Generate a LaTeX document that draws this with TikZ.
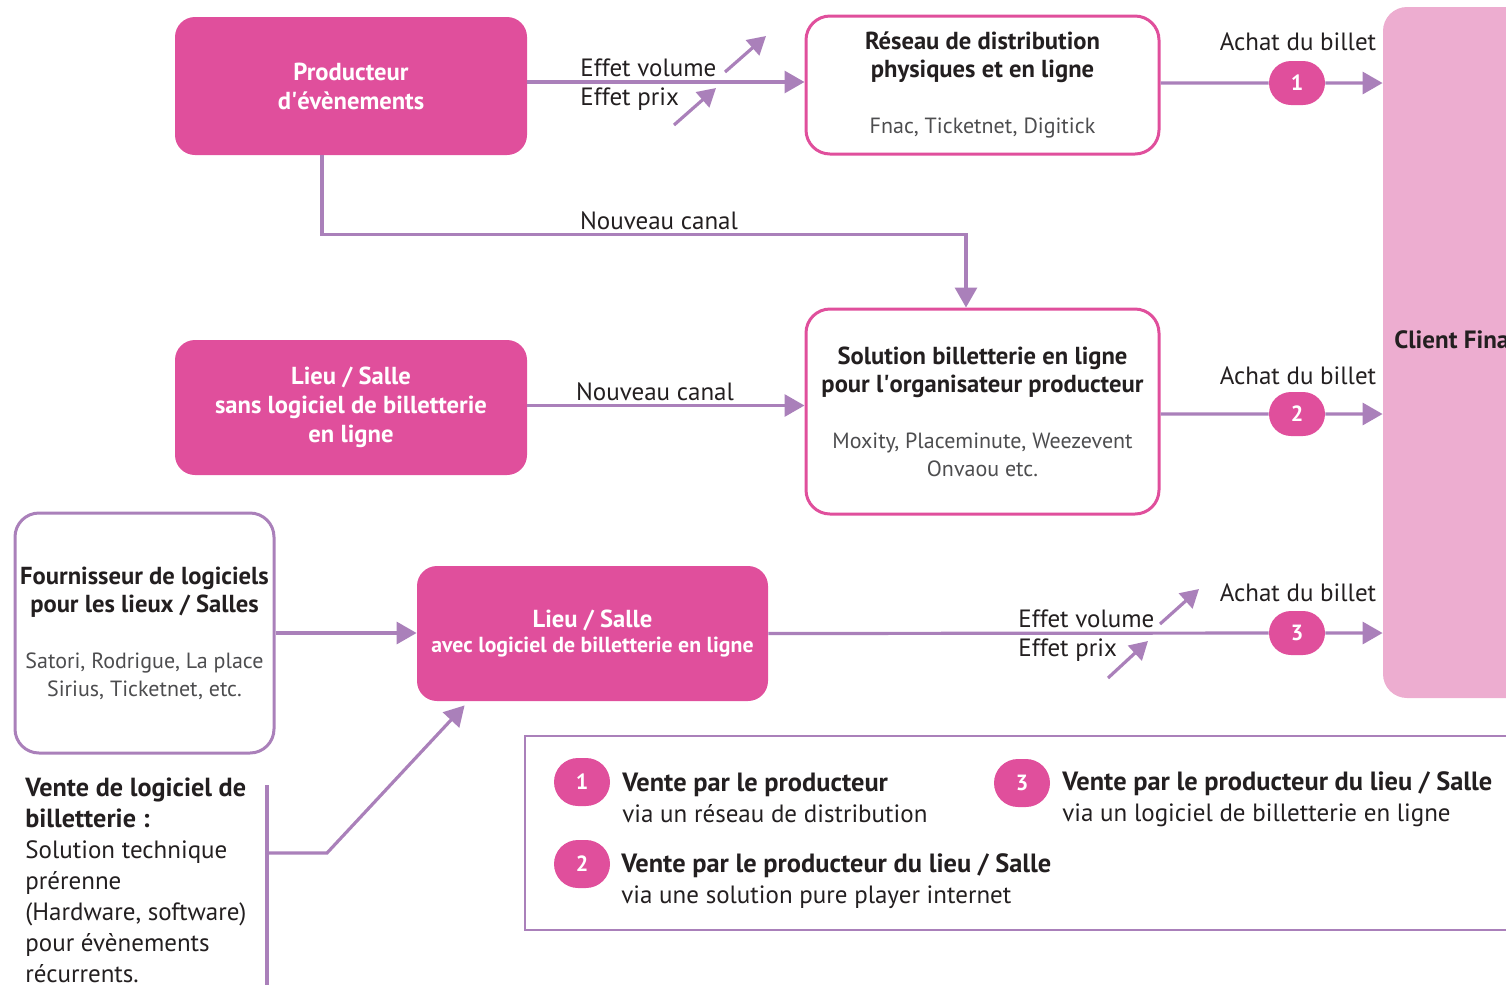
\documentclass[tikz,border=0pt]{standalone}
\usepackage{fontspec}
\setmainfont{PT Sans}
\usetikzlibrary{positioning,arrows.meta,shapes.misc}

\definecolor{rose}{HTML}{E04F9C}
\definecolor{rosepale}{HTML}{EDADD0}
\definecolor{lilac}{HTML}{AA80BA}
\definecolor{ink}{HTML}{231F20}
\definecolor{soft}{HTML}{4D4D4F}

\tikzset{
	pinkbox/.style={rectangle,rounded corners=10pt,fill=rose,text=white,align=center,inner sep=0pt,font=\fontsize{12.3}{14.5}\selectfont\bfseries},
	framebox/.style={rectangle,rounded corners=12pt,draw=rose,line width=1.5pt,fill=white,align=center,inner sep=0pt,text=ink,font=\fontsize{11}{14}\selectfont},
	flow/.style={draw=lilac,line width=1.6pt,-{Triangle[length=10pt,width=11pt]}},
	effect/.style={draw=lilac,line width=1.6pt,-{Triangle[length=9pt,width=10pt]}},
	badge/.style={rounded rectangle,fill=rose,text=white,inner sep=0pt,minimum width=28pt,minimum height=22pt,font=\fontsize{11}{13}\selectfont\bfseries},
	caption/.style={text=ink,inner sep=0pt,font=\fontsize{12.5}{15.5}\selectfont},
	legtext/.style={text=ink,inner sep=0pt,align=left,font=\fontsize{12.5}{15.5}\selectfont}
}
\newcommand{\boxtitle}[1]{{\fontsize{12.3}{14}\selectfont\bfseries #1}}
\newcommand{\legtitle}[1]{{\fontsize{13.2}{15.5}\selectfont\bfseries #1}}

\begin{document}
\begin{tikzpicture}[x=0.5pt,y=-0.5pt]
	\clip (0,0) rectangle (1506,987);

	% boites
	\node[pinkbox,minimum width=176pt,minimum height=69pt] (prod) at (351,86) {Producteur\\d\textquotesingle évènements};
	\node[framebox,minimum width=176.5pt,minimum height=69pt] (reseau) at (982.5,85)
		{\boxtitle{Réseau de distribution}\\\boxtitle{physiques et en ligne}\\[14pt]{\color{soft}Fnac, Ticketnet, Digitick}};
	\node[framebox,minimum width=176.5pt,minimum height=102.5pt] (sol) at (982.5,411.5)
		{\boxtitle{Solution billetterie en ligne}\\\boxtitle{pour l\textquotesingle organisateur producteur}\\[14pt]{\color{soft}Moxity, Placeminute, Weezevent}\\{\color{soft}Onvaou etc.}};
	\node[pinkbox,minimum width=176pt,minimum height=67.5pt] (sans) at (351,407.5) {Lieu / Salle\\sans logiciel de billetterie\\en ligne};
	\node[framebox,draw=lilac,minimum width=129.5pt,minimum height=120pt] (fourn) at (144.5,633)
		{\boxtitle{Fournisseur de logiciels}\\\boxtitle{pour les lieux / Salles}\\[14pt]{\color{soft}Satori, Rodrigue, La place}\\{\color{soft}Sirius, Ticketnet, etc.}};
	\node[pinkbox,minimum width=175.5pt,minimum height=67.5pt] (avec) at (592.5,633.5) {Lieu / Salle\\[-2pt]{\fontsize{10.9}{12}\selectfont avec logiciel de billetterie en ligne}};
	\node[rectangle,rounded corners=12pt,fill=rosepale,minimum width=75pt,minimum height=345.5pt,inner sep=0pt] (client) at (1458,352.5) {};
	\node[anchor=west,inner sep=0pt,text=ink,font=\fontsize{12.5}{14}\selectfont\bfseries] (clientlbl) at (1394,340) {Client Final};

	% achats
	\node[badge] (b1) at (1297,83) {1};
	\node[badge] (b2) at (1297,414) {2};
	\node[badge] (b3) at (1297,633) {3};
	\node[caption] (a1) at (1298,42) {Achat du billet};
	\node[caption] (a2) at (1298,376) {Achat du billet};
	\node[caption] (a3) at (1298,593) {Achat du billet};

	\draw[flow] ([yshift=2pt]prod.east) -- ([yshift=2pt]prod.east -| reseau.west);
	\draw[flow] (reseau.east |- b1) -- (b1) -- (b1 -| client.west);
	\draw[flow] ([xshift=-14.5pt]prod.south) -- ++(0,79) -| ([xshift=-8.25pt]sol.north);
	\draw[flow] ([yshift=1pt]sans.east) -- ([yshift=1pt]sans.east -| sol.west);
	\draw[flow] (sol.east |- b2) -- (b2) -- (b2 -| client.west);
	\draw[flow] (fourn.east) -- (fourn.east -| avec.west);
	\draw[flow] (avec.east) -- (b3) -- (b3 -| client.west);

	\node[caption] (nc1) at (659,221) {Nouveau canal};
	\node[caption] (nc2) at (655,392) {Nouveau canal};

	% effets
	\node[caption,anchor=west] (vol1) at (580,68) {Effet volume};
	\node[caption,anchor=west] (prix1) at (580,99) {Effet prix};
	\node[caption,anchor=west] (vol3) at (1018,619) {Effet volume};
	\node[caption,anchor=west] (prix3) at (1018,650) {Effet prix};
	\coordinate (v1s) at (725,72);
	\coordinate (v1e) at (766,36);
	\coordinate (p1s) at (674,125);
	\coordinate (p1e) at (716,88);
	\coordinate (v3s) at (1160,624);
	\coordinate (v3e) at (1199,589);
	\coordinate (p3s) at (1108,678);
	\coordinate (p3e) at (1148,641);
	\draw[effect] (v1s) -- (v1e);
	\draw[effect] (p1s) -- (p1e);
	\draw[effect] (v3s) -- (v3e);
	\draw[effect] (p3s) -- (p3e);

	% vente de logiciel
	\node[caption,anchor=north west,align=left] (vente) at (25,777)
		{{\fontsize{13.1}{15.5}\selectfont\bfseries Vente de logiciel de}\\{\fontsize{13.1}{15.5}\selectfont\bfseries billetterie :}\\Solution technique\\prérenne\\(Hardware, software)\\pour évènements\\récurrents.};
	\coordinate (brtop) at (267,785);
	\coordinate (brbot) at (267,985);
	\coordinate (brmid) at (267,853);
	\coordinate (brknee) at (327,853);
	\draw[lilac,line width=1.6pt] (brtop) -- (brbot);
	\draw[flow] (brmid) -- (brknee) -- ([xshift=24pt,yshift=-2pt]avec.south west);

	% legende
	\node[rectangle,draw=lilac,line width=1pt,minimum width=500pt,minimum height=97pt,inner sep=0pt] (legend) at (1025,833) {};
	\node[badge,minimum height=24pt] (l1) at (582,782) {1};
	\node[badge,minimum height=24pt] (l2) at (582,864) {2};
	\node[badge,minimum height=24pt] (l3) at (1022,783) {3};
	\node[legtext,anchor=west] (t1) at (622,798) {\legtitle{Vente par le producteur}\\via un réseau de distribution};
	\node[legtext,anchor=west] (t2) at (621,881) {\legtitle{Vente par le producteur du lieu / Salle}\\via une solution pure player internet};
	\node[legtext,anchor=west] (t3) at (1062,799) {\legtitle{Vente par le producteur du lieu / Salle}\\via un logiciel de billetterie en ligne};
\end{tikzpicture}
\end{document}
